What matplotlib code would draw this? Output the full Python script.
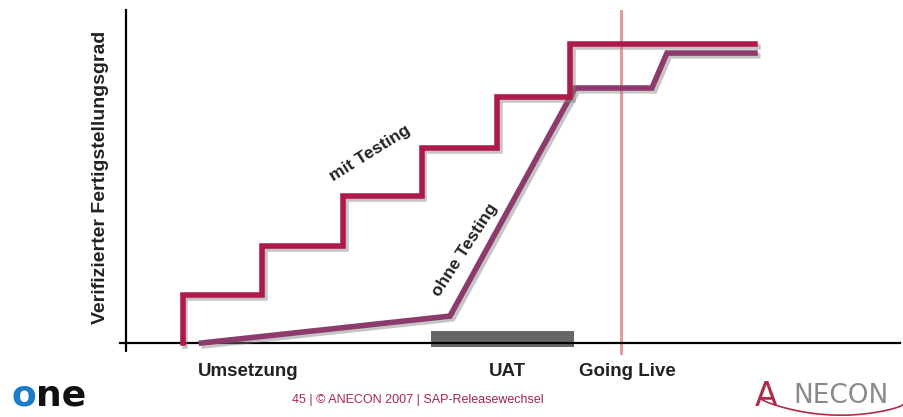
import numpy as np
import matplotlib
matplotlib.use("Agg")
import matplotlib.pyplot as plt
import matplotlib.patheffects as pe

plt.rcParams['font.family'] = ['Liberation Sans', 'DejaVu Sans']

# Daten (x: Zeitachse 0..100, y: Fertigstellungsgrad in %)
mit_x = [9.0, 9.0, 21.6, 21.6, 34.5, 34.5, 47.0, 47.0, 59.0, 59.0, 70.6, 70.6, 100.0]
mit_y = [0.0, 16.1, 16.1, 32.4, 32.4, 49.2, 49.2, 65.2, 65.2, 82.3, 82.3, 100.0, 100.0]

ohne_x = [12.0, 51.5, 71.4, 83.6, 86.0, 100.0]
ohne_y = [0.0, 9.0, 85.3, 85.3, 97.0, 97.0]

uat_start, uat_end = 48.5, 71.2
going_live = 78.7

phase_labels = ['Umsetzung', 'UAT', 'Going Live']
phase_pos = [19.4, 60.6, 79.7]

red = '#AE1A4A'
purple = '#8C3B6C'

fig = plt.figure(figsize=(9.04, 4.17), dpi=100)
ax = fig.add_axes([120 / 904, 57 / 417, 780 / 904, 350 / 417])
ax.set_xlim(-0.95, 123.05)
ax.set_ylim(-5.69, 111.4)
ax.patch.set_alpha(0)

shadow = [pe.SimpleLineShadow(offset=(2, -2), shadow_color='gray', alpha=0.45),
          pe.Normal()]

# UAT Balken
ax.fill_between([uat_start, uat_end], -1.3, 4.0, color='#666666', lw=0, zorder=2)

# Going Live
ax.axvline(going_live, ymin=0.02, ymax=1.0, color='#E39A9C', lw=2.2, zorder=1)

ax.plot(ohne_x, ohne_y, color=purple, lw=4, solid_joinstyle='miter',
        path_effects=shadow, zorder=3)
ax.plot(mit_x, mit_y, color=red, lw=4, solid_joinstyle='miter',
        path_effects=shadow, zorder=4)

# Achsen
for s in ['top', 'right']:
    ax.spines[s].set_visible(False)
ax.spines['left'].set_position(('data', 0))
ax.spines['left'].set_bounds(-2.3, 111.4)
ax.spines['bottom'].set_position(('data', 0))
ax.spines['bottom'].set_bounds(-0.95, 123.05)
ax.spines['left'].set_linewidth(1.6)
ax.spines['bottom'].set_linewidth(1.6)
ax.set_yticks([])
ax.set_xticks([0])
ax.set_xticklabels([''])
ax.tick_params(axis='x', direction='out', length=6.5, width=1.4)

for lab, xp in zip(phase_labels, phase_pos):
    ax.text(xp, -9.6, lab, ha='center', va='center', fontsize=13.5,
            fontweight='bold', color='#222222', clip_on=False)

ax.text(-4.1, 55.5, 'Verifizierter Fertigstellungsgrad', rotation=90,
        ha='center', va='center', fontsize=14, fontweight='bold',
        color='#222222', clip_on=False)

ax.text(38.8, 63.5, 'mit Testing', rotation=32, ha='center', va='center',
        fontsize=12.5, fontweight='bold', color='#222222')
ax.text(53.9, 31.3, 'ohne Testing', rotation=57, ha='center', va='center',
        fontsize=12.5, fontweight='bold', color='#222222')

# Fusszeile
fig.text(418 / 904, 1 - 400 / 417, '45 | \u00a9 ANECON 2007 | SAP-Releasewechsel',
         ha='center', va='center', fontsize=9, color='#A8234E')

# Logos
fig.text(12 / 904, 1 - 396 / 417, 'o', ha='left', va='center', fontsize=26,
         fontweight='bold', color='#1B7DC9', family='DejaVu Sans')
fig.text(36 / 904, 1 - 396 / 417, 'ne', ha='left', va='center', fontsize=26,
         fontweight='bold', color='#111111', family='DejaVu Sans')
fig.text(755 / 904, 1 - 396 / 417, 'A', ha='left', va='center', fontsize=24,
         color='#B02A4A', family='DejaVu Sans')
fig.text(793 / 904, 1 - 396 / 417, 'NECON', ha='left', va='center', fontsize=19,
         color='#8A8A8A', family='DejaVu Sans')
t = np.linspace(0, 1, 50)
fig.add_artist(plt.Line2D((760 + 144 * t) / 904,
                          1 - (398 + 14 * np.sin(np.pi * t) ** 0.7 + 6 * t) / 417,
                          color='#B02A4A', lw=1.2))

fig.savefig('out.png', dpi=100)
